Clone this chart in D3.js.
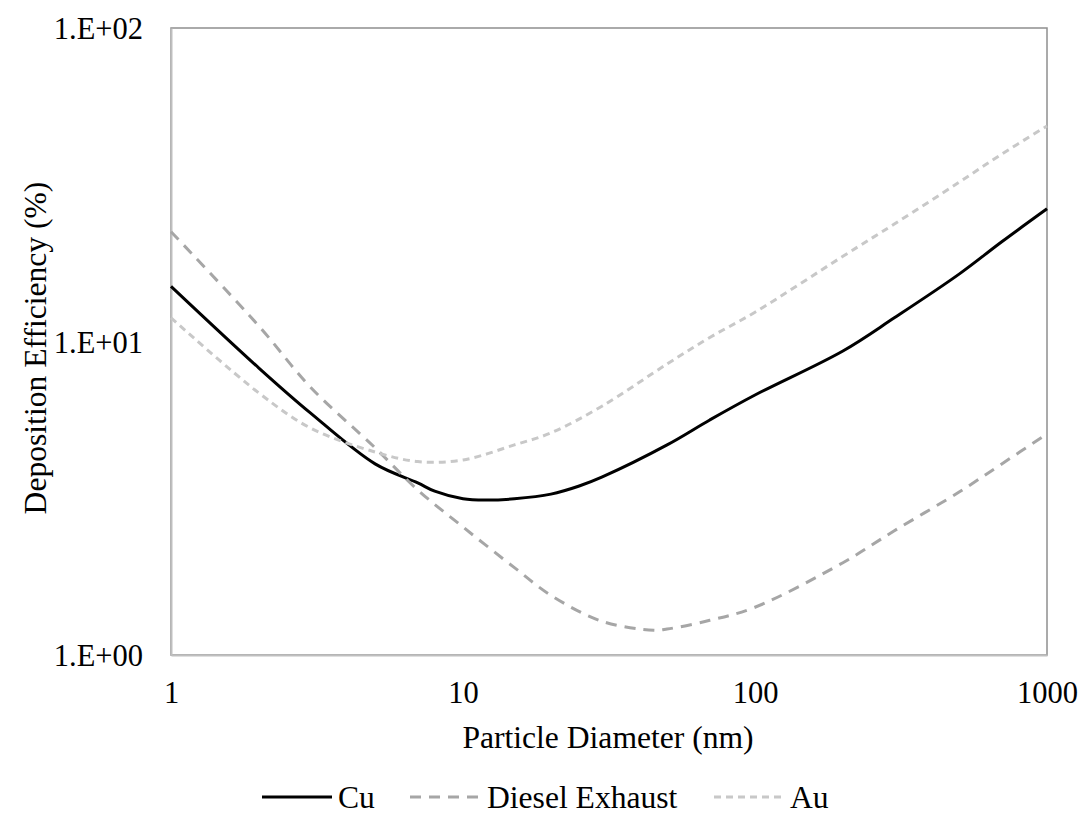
<!DOCTYPE html>
<html>
<head>
<meta charset="utf-8">
<script src="https://cdn.jsdelivr.net/npm/d3@7"></script>
</head>
<body style="margin:0;background:#fff">
<svg id="chart" width="1081" height="824" style="display:block"></svg>
<script>
// ---- data ----
const diameters = [1, 2, 3, 5, 7, 8, 10, 12, 15, 20, 25, 30, 50, 70, 100, 200, 300, 500, 700, 1000];
const cuValues  = [15.0, 8.23, 5.92, 4.07, 3.54, 3.33, 3.15, 3.12, 3.15, 3.26, 3.46, 3.70, 4.68, 5.62, 6.75, 9.33, 11.9, 16.4, 20.8, 26.5];

const dieselDiameters = [1, 2, 3, 5, 7, 10, 15, 20, 30, 45, 50, 70, 100, 200, 300, 500, 700, 1000];
const dieselValues    = [22.4, 11.2, 7.16, 4.58, 3.36, 2.56, 1.90, 1.55, 1.28, 1.20, 1.21, 1.29, 1.42, 1.97, 2.49, 3.31, 4.07, 5.07];

const auDiameters = [1, 2, 3, 5, 7, 10, 15, 20, 30, 50, 70, 100, 200, 300, 500, 700, 1000];
const auValues    = [11.9, 6.85, 5.30, 4.44, 4.14, 4.19, 4.68, 5.11, 6.23, 8.48, 10.3, 12.4, 18.7, 23.7, 32.2, 39.6, 48.7];

const xTicks = [1, 10, 100, 1000];
const xTickLabels = ["1", "10", "100", "1000"];
const yTicks = [1, 10, 100];
const yTickLabels = ["1.E+00", "1.E+01", "1.E+02"];

const seriesNames = ["Cu", "Diesel Exhaust", "Au"];

// ---- layout ----
const FONT = "'Liberation Serif', serif";
const svg = d3.select("#chart");
const L = 171, R = 1047, T = 28, B = 655;

const x = d3.scaleLog().domain([1, 1000]).range([L, R]);
const y = d3.scaleLog().domain([1, 100]).range([B, T]);

const series = [
  { name: seriesNames[0], xs: diameters, ys: cuValues, color: "#000000", width: 3, dash: null },
  { name: seriesNames[1], xs: dieselDiameters, ys: dieselValues, color: "#a6a6a6", width: 3, dash: "11,8" },
  { name: seriesNames[2], xs: auDiameters, ys: auValues, color: "#c8c8c8", width: 3, dash: "7,5" }
];

// plot frame
svg.append("rect")
  .attr("x", L).attr("y", T).attr("width", R - L).attr("height", B - T)
  .attr("fill", "none").attr("stroke", "#8f8f8f").attr("stroke-width", 1.5);

// axes (no tick marks)
const xAxis = d3.axisBottom(x).tickValues(xTicks).tickSize(0)
  .tickFormat((d, i) => xTickLabels[i]);
const gx = svg.append("g").attr("transform", `translate(0,${B})`).call(xAxis);
gx.select(".domain").attr("stroke", "#bfbfbf").attr("stroke-width", 2);
gx.selectAll("text")
  .style("font-family", FONT)
  .style("font-size", "30.5px").attr("fill", "#000").attr("dy", null).attr("y", 48);

const yAxis = d3.axisLeft(y).tickValues(yTicks).tickSize(0)
  .tickFormat((d, i) => yTickLabels[i]);
const gy = svg.append("g").attr("transform", `translate(${L},0)`).call(yAxis);
gy.select(".domain").attr("stroke", "#bfbfbf").attr("stroke-width", 2);
gy.selectAll("text")
  .style("font-family", FONT)
  .style("font-size", "30.5px").attr("fill", "#000").attr("x", -28).attr("dy", "0.35em");

// lines
const line = d3.line()
  .x(d => x(d[0]))
  .y(d => y(d[1]))
  .curve(d3.curveCatmullRom.alpha(0.5));

series.forEach(s => {
  const pts = s.xs.map((d, i) => [d, s.ys[i]]);
  svg.append("path")
    .datum(pts)
    .attr("d", line)
    .attr("fill", "none")
    .attr("stroke", s.color)
    .attr("stroke-width", s.width)
    .attr("stroke-dasharray", s.dash)
    .attr("stroke-linejoin", "round");
});

// axis titles
svg.append("text")
  .attr("x", 608).attr("y", 748)
  .attr("text-anchor", "middle").style("font-family", FONT).style("font-size", "31.6px")
  .text("Particle Diameter (nm)");

svg.append("text")
  .attr("transform", `translate(46,348) rotate(-90)`)
  .attr("text-anchor", "middle").style("font-family", FONT).style("font-size", "31.6px")
  .text("Deposition Efficiency (%)");

// legend
const legendItems = [
  { s: series[0], x0: 262, x1: 332, tx: 338 },
  { s: series[1], x0: 410, x1: 481, tx: 487 },
  { s: series[2], x0: 714, x1: 784, tx: 790 }
];
const ly = 797;
legendItems.forEach(it => {
  svg.append("line")
    .attr("x1", it.x0).attr("x2", it.x1).attr("y1", ly).attr("y2", ly)
    .attr("stroke", it.s.color).attr("stroke-width", it.s.width)
    .attr("stroke-dasharray", it.s.dash);
  svg.append("text")
    .attr("x", it.tx).attr("y", ly).attr("dy", "0.35em")
    .style("font-family", FONT).style("font-size", "31.6px")
    .text(it.s.name);
});
</script>
</body>
</html>
